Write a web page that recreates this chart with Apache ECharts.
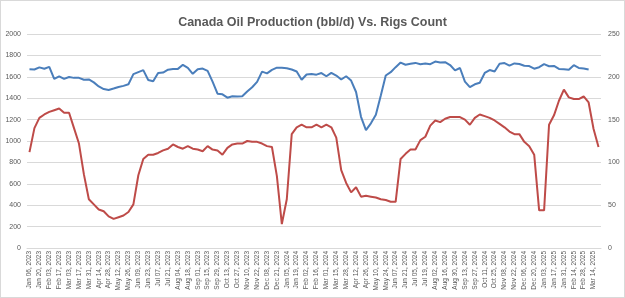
<!DOCTYPE html>
<html>
<head>
<meta charset="utf-8">
<title>Canada Oil Production Vs. Rigs Count</title>
<script src="https://cdn.jsdelivr.net/npm/echarts@6/dist/echarts.min.js"></script>
<style>
	html, body { margin: 0; padding: 0; background: #fff; }
	#chart-oil { width: 625px; height: 298px; box-sizing: border-box; border: 1px solid #d9d9d9; }
</style>
</head>
<body>
<div id="chart-oil"></div>
<script>
// week dates (Friday report, holiday weeks moved)
var weekDates = [
	'Jan 06, 2023','Jan 13, 2023','Jan 20, 2023','Jan 27, 2023','Feb 03, 2023','Feb 10, 2023','Feb 17, 2023','Feb 24, 2023',
	'Mar 03, 2023','Mar 10, 2023','Mar 17, 2023','Mar 24, 2023','Mar 31, 2023','Apr 06, 2023','Apr 14, 2023','Apr 21, 2023',
	'Apr 28, 2023','May 05, 2023','May 12, 2023','May 19, 2023','May 26, 2023','Jun 02, 2023','Jun 09, 2023','Jun 16, 2023',
	'Jun 23, 2023','Jun 30, 2023','Jul 07, 2023','Jul 14, 2023','Jul 21, 2023','Jul 28, 2023','Aug 04, 2023','Aug 11, 2023',
	'Aug 18, 2023','Aug 25, 2023','Sep 01, 2023','Sep 08, 2023','Sep 15, 2023','Sep 22, 2023','Sep 29, 2023','Oct 06, 2023',
	'Oct 13, 2023','Oct 20, 2023','Oct 27, 2023','Nov 03, 2023','Nov 10, 2023','Nov 17, 2023','Nov 22, 2023','Dec 01, 2023',
	'Dec 08, 2023','Dec 15, 2023','Dec 21, 2023','Dec 29, 2023',
	'Jan 05, 2024','Jan 12, 2024','Jan 19, 2024','Jan 26, 2024','Feb 02, 2024','Feb 09, 2024','Feb 16, 2024','Feb 23, 2024',
	'Mar 01, 2024','Mar 08, 2024','Mar 15, 2024','Mar 22, 2024','Mar 28, 2024','Apr 05, 2024','Apr 12, 2024','Apr 19, 2024',
	'Apr 26, 2024','May 03, 2024','May 10, 2024','May 17, 2024','May 24, 2024','May 31, 2024','Jun 07, 2024','Jun 14, 2024',
	'Jun 21, 2024','Jun 28, 2024','Jul 05, 2024','Jul 12, 2024','Jul 19, 2024','Jul 26, 2024','Aug 02, 2024','Aug 09, 2024',
	'Aug 16, 2024','Aug 23, 2024','Aug 30, 2024','Sep 06, 2024','Sep 13, 2024','Sep 20, 2024','Sep 27, 2024','Oct 04, 2024',
	'Oct 11, 2024','Oct 18, 2024','Oct 25, 2024','Nov 01, 2024','Nov 08, 2024','Nov 15, 2024','Nov 22, 2024','Nov 27, 2024',
	'Dec 06, 2024','Dec 13, 2024','Dec 20, 2024','Dec 27, 2024',
	'Jan 03, 2025','Jan 10, 2025','Jan 17, 2025','Jan 24, 2025','Jan 31, 2025','Feb 07, 2025','Feb 14, 2025','Feb 21, 2025',
	'Feb 28, 2025','Mar 07, 2025','Mar 14, 2025','Mar 21, 2025'
];

// oil production, left axis (ends Mar 07, 2025)
var oilProduction = [
	1670,1668,1688,1675,1693,1580,1605,1580,1598,1590,1590,1572,1575,1548,1510,1485,
	1477,1490,1505,1515,1530,1625,1644,1662,1570,1558,1636,1640,1666,1672,1674,1712,
	1684,1628,1671,1677,1655,1555,1442,1436,1405,1418,1416,1418,1462,1502,1552,1648,
	1632,1665,1685,1684,1680,1668,1650,1572,1622,1626,1620,1635,1605,1637,1612,1575,
	1605,1565,1458,1226,1102,1165,1245,1425,1612,1643,1690,1733,1713,1722,1730,1718,
	1724,1718,1742,1734,1737,1710,1660,1682,1555,1503,1530,1545,1636,1663,1650,1722,
	1728,1705,1725,1720,1703,1700,1676,1690,1718,1699,1702,1674,1670,1665,1708,1683,
	1678,1668
];

// rigs count, right axis
var rigsCount = [
	112,140,152,156,159,161,163,158,158,140,122,86,57,51,45,43,
	37,34,36,38,42,51,85,104,109,109,111,114,116,121,118,116,
	119,116,115,113,119,115,114,109,117,121,122,122,125,124,124,122,
	119,118,84,28,57,133,141,144,141,141,144,141,144,141,129,91,
	76,65,71,60,61,60,59,57,56,54,54,104,110,115,115,126,
	130,143,149,147,151,153,153,153,150,144,152,156,154,152,149,145,
	141,136,133,133,124,119,109,44,44,144,155,172,185,176,174,174,
	177,170,139,118
];

var leftTicks = { min: 0, max: 2000, step: 200 };
var rightTicks = { min: 0, max: 250, step: 50 };

var myChart = echarts.init(document.getElementById('chart-oil'));
var txtColor = '#595959';
var lineGray = '#d9d9d9';

var option = {
	animation: false,
	title: {
		text: 'Canada Oil Production (bbl/d) Vs. Rigs Count',
		left: 'center',
		top: 10,
		textStyle: {
			fontFamily: '"Liberation Sans", sans-serif',
			fontSize: 12.5,
			fontWeight: 'bold',
			color: txtColor
		}
	},
	grid: {
		left: 26,
		right: 23,
		top: 33,
		bottom: 49
	},
	xAxis: {
		type: 'category',
		boundaryGap: true,
		data: weekDates,
		axisLine: { show: true, lineStyle: { color: lineGray, width: 1 } },
		axisTick: { show: false },
		axisLabel: {
			interval: 1,
			rotate: 90,
			margin: 3,
			fontSize: 6.5,
			fontFamily: '"Liberation Sans", sans-serif',
			color: txtColor
		}
	},
	yAxis: [
		{
			type: 'value',
			min: leftTicks.min,
			max: leftTicks.max,
			interval: leftTicks.step,
			axisLine: { show: false },
			axisTick: { show: false },
			splitLine: { lineStyle: { color: lineGray, width: 1 } },
			axisLabel: {
				margin: 6,
				fontSize: 7,
				fontFamily: '"Liberation Sans", sans-serif',
				color: txtColor,
				formatter: function (v) { return String(v); }
			}
		},
		{
			type: 'value',
			min: rightTicks.min,
			max: rightTicks.max,
			interval: rightTicks.step,
			axisLine: { show: false },
			axisTick: { show: false },
			splitLine: { show: false },
			axisLabel: {
				margin: 7,
				fontSize: 7,
				fontFamily: '"Liberation Sans", sans-serif',
				color: txtColor,
				formatter: function (v) { return String(v); }
			}
		}
	],
	series: [
		{
			name: 'Oil Production',
			type: 'line',
			yAxisIndex: 0,
			data: oilProduction,
			symbol: 'none',
			lineStyle: { color: '#4a7ebb', width: 2 },
			itemStyle: { color: '#4a7ebb' }
		},
		{
			name: 'Rigs Count',
			type: 'line',
			yAxisIndex: 1,
			data: rigsCount,
			symbol: 'none',
			lineStyle: { color: '#be4b48', width: 2 },
			itemStyle: { color: '#be4b48' }
		}
	]
};
myChart.setOption(option);

window.addEventListener("resize", function () {
	myChart.resize();
});
</script>
</body>
</html>
